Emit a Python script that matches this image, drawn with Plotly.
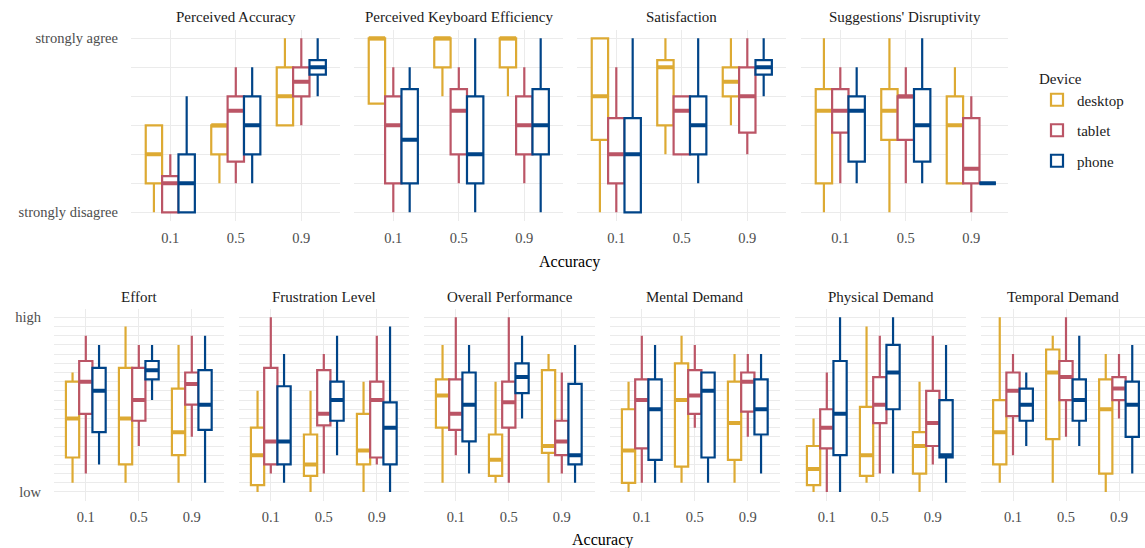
import plotly.graph_objects as go

# ---------------- data ----------------
accuracy = ["0.1", "0.5", "0.9"]
devices = ["desktop", "tablet", "phone"]
colors = {"desktop": "#DDAA33", "tablet": "#BB5566", "phone": "#004488"}

likert_ticks = [1, 2, 3, 4, 5, 6, 7]
likert_labels = ["strongly disagree", "", "", "", "", "", "strongly agree"]
tlx_ticks = list(range(1, 21))
tlx_labels = ["low"] + [""] * 18 + ["high"]

# each entry: per device -> per accuracy (0.1, 0.5, 0.9) -> (lower, q1, median, q3, upper)
perceived_accuracy = [
    [(1, 2, 3, 4, 4), (2, 3, 4, 4, 4), (4, 4, 5, 6, 7)],
    [(1, 1, 2, 2.25, 3), (2, 2.75, 4.5, 5, 6), (4, 5, 5.5, 6, 7)],
    [(1, 1, 2, 3, 5), (2, 3, 4, 5, 6), (5, 5.75, 6, 6.25, 7)],
]
keyboard_efficiency = [
    [(4.75, 4.75, 7, 7, 7), (5, 6, 7, 7, 7), (5, 6, 7, 7, 7)],
    [(1, 2, 4, 5, 6), (2, 3, 4.5, 5.25, 6), (2, 3, 4, 5, 6)],
    [(1, 2, 3.5, 5.25, 6), (1, 2, 3, 5, 7), (1, 3, 4, 5.25, 7)],
]
satisfaction = [
    [(1, 3.5, 5, 7, 7), (3, 4, 6, 6.25, 7), (4, 5, 5.5, 6, 7)],
    [(1, 2, 3, 4.25, 6), (3, 3, 4.5, 5, 5), (3, 3.75, 5, 6, 7)],
    [(1, 1, 3, 4.25, 7), (2, 3, 4, 5, 7), (5, 5.75, 6, 6.25, 7)],
]
disruptivity = [
    [(1, 2, 4.5, 5.25, 7), (1, 3.5, 4.5, 5.25, 7), (2, 2, 4, 5, 6)],
    [(2, 3.75, 4.5, 5.25, 6), (2, 3.5, 5, 5, 6), (1, 2, 2.5, 4.25, 5)],
    [(2, 2.75, 4.5, 5, 6), (2, 2.75, 4, 5.25, 7), (2, 2, 2, 2, 2)],
]
effort = [
    [(2, 4.75, 9, 13, 14), (2, 4, 9, 14.5, 19), (2, 5, 7.5, 12.25, 17)],
    [(3, 9.5, 13, 15.25, 18), (6, 8.75, 11, 14.5, 17), (7, 10.5, 12.75, 14, 18)],
    [(4, 7.5, 12, 14.5, 17), (11, 13.25, 14.25, 15.25, 17), (2, 7.75, 10.5, 14.25, 18)],
]
frustration = [
    [(1, 1.75, 5, 8, 12), (1, 2.75, 4, 7.25, 12), (1, 4, 5.5, 9.5, 13)],
    [(3, 4, 6.5, 14.5, 20), (3, 8.25, 9.5, 14.25, 16), (4, 4.75, 11, 13, 18)],
    [(2, 4, 6.5, 12.5, 16), (5, 8.75, 11, 13, 18), (1, 4, 8, 10.75, 19)],
]
overall_performance = [
    [(2, 8, 11.5, 13.25, 17), (2, 2.75, 4.5, 7.25, 13), (2, 5.25, 6, 14.25, 16)],
    [(5, 7.75, 9.5, 13.25, 20), (2, 8, 10.75, 13, 20), (3, 5, 6.5, 8.75, 14)],
    [(3, 6.5, 10.5, 14, 17), (9, 11.75, 13.5, 15, 18), (2, 4, 5, 12.75, 17)],
]
mental_demand = [
    [(1, 2, 5.5, 10, 13), (2, 3.75, 11, 15, 18), (2, 4.5, 8.5, 13, 16)],
    [(2, 5.75, 11, 13.25, 18), (8, 9.5, 11.5, 14.25, 17), (7, 9.75, 13, 14, 16)],
    [(2, 4.5, 10, 13.25, 17), (2, 4.75, 12, 14, 14), (3, 7.25, 10, 13.25, 16)],
]
physical_demand = [
    [(1, 1.75, 3.5, 6, 9), (2, 2.75, 5, 10.25, 19), (1, 3, 6, 7.5, 13)],
    [(1, 5.75, 8, 10, 14), (3, 8.5, 10.5, 13.5, 18), (4, 6, 8.5, 12, 18)],
    [(1, 5, 9.5, 15.25, 20), (3, 10, 14, 17, 20), (2, 4.75, 5, 11, 17)],
]
temporal_demand = [
    [(2, 4, 7.5, 11, 20), (2, 6.75, 14, 16.5, 18), (1, 3, 10, 13.25, 16)],
    [(5, 9.25, 12, 14, 16), (7, 11, 13.5, 15.25, 20), (9, 11, 12.25, 13.5, 16)],
    [(6, 8.75, 10.5, 12.25, 14), (6, 8.75, 11, 13.25, 18), (3, 7, 10.5, 13, 17)],
]

top_titles = ["Perceived Accuracy", "Perceived Keyboard Efficiency", "Satisfaction",
              "Suggestions' Disruptivity"]
top_data = [perceived_accuracy, keyboard_efficiency, satisfaction, disruptivity]
bottom_titles = ["Effort", "Frustration Level", "Overall Performance", "Mental Demand",
                 "Physical Demand", "Temporal Demand"]
bottom_data = [effort, frustration, overall_performance, mental_demand,
               physical_demand, temporal_demand]

# ---------------- layout geometry (pixels) ----------------
W, H = 1145, 548
FONT = "Liberation Serif"
GRID = "#EBEBEB"

top_x = [(131, 340), (354, 563), (577, 786), (801, 1008)]
top_y = (29.6, 221)
bot_x = [(54, 224), (239, 409), (424, 595), (610, 780), (795, 966), (981.2, 1145)]
bot_y = (308.6, 500.7)


def fx(p):
    return p / W


def fy(p):
    return 1 - p / H


fig = go.Figure()
layout_axes = {}
annotations = []

panels = []
for i, (t, d) in enumerate(zip(top_titles, top_data)):
    panels.append(dict(title=t, data=d, xd=top_x[i], yd=top_y, row="top", first=(i == 0)))
for i, (t, d) in enumerate(zip(bottom_titles, bottom_data)):
    panels.append(dict(title=t, data=d, xd=bot_x[i], yd=bot_y, row="bottom", first=(i == 0)))

for k, p in enumerate(panels, start=1):
    xa = "x" if k == 1 else f"x{k}"
    ya = "y" if k == 1 else f"y{k}"
    for di, dev in enumerate(devices):
        stats = p["data"][di]
        lo = [s[0] for s in stats]
        q1 = [s[1] for s in stats]
        med = [s[2] for s in stats]
        q3 = [s[3] for s in stats]
        hi = [s[4] for s in stats]
        fig.add_trace(go.Box(
            x=accuracy, q1=q1, median=med, q3=q3, lowerfence=lo, upperfence=hi,
            name=dev, legendgroup=dev, showlegend=(k == 1), offsetgroup=dev,
            line=dict(color=colors[dev], width=2.2), fillcolor="white",
            whiskerwidth=0, boxpoints=False, xaxis=xa, yaxis=ya, hoverinfo="skip",
        ))
        # thick median bar (drawn as a flat box at the median)
        fig.add_trace(go.Box(
            x=accuracy, q1=med, median=med, q3=med, lowerfence=med, upperfence=med,
            name=dev, legendgroup=dev, showlegend=False, offsetgroup=dev,
            line=dict(color=colors[dev], width=4), fillcolor=colors[dev],
            whiskerwidth=0, boxpoints=False, xaxis=xa, yaxis=ya, hoverinfo="skip",
        ))

    x0, x1 = p["xd"]
    y0, y1 = p["yd"]
    spacing = 65.5 if p["row"] == "top" else 53.0
    right = -0.6 + (x1 - x0) / spacing
    xkey = "xaxis" if k == 1 else f"xaxis{k}"
    ykey = "yaxis" if k == 1 else f"yaxis{k}"
    layout_axes[xkey] = dict(
        domain=[fx(x0), fx(x1)], anchor=ya, type="category",
        categoryorder="array", categoryarray=accuracy, range=[-0.6, right],
        showgrid=True, gridcolor=GRID, gridwidth=1.3, zeroline=False, showline=False,
        ticks="", tickfont=dict(family=FONT, size=14.5, color="#4D4D4D"),
        ticklabelstandoff=6, fixedrange=True,
    )
    if p["row"] == "top":
        yr, tv, tt = [0.7, 7.3], likert_ticks, likert_labels
    else:
        yr, tv, tt = [0.05, 20.95], tlx_ticks, tlx_labels
    layout_axes[ykey] = dict(
        domain=[fy(y1), fy(y0)], anchor=xa, range=yr, tickmode="array",
        tickvals=tv, ticktext=tt, showticklabels=p["first"],
        showgrid=True, gridcolor=GRID, gridwidth=1.3, zeroline=False, showline=False,
        ticks="", tickfont=dict(family=FONT, size=14.5, color="#4D4D4D"),
        ticklabelstandoff=12, fixedrange=True,
    )
    title_y = 17 if p["row"] == "top" else 297
    annotations.append(dict(
        text=p["title"], x=fx((x0 + x1) / 2), y=fy(title_y), xref="paper", yref="paper",
        xanchor="center", yanchor="middle", showarrow=False,
        font=dict(family=FONT, size=15, color="#1A1A1A"),
    ))

annotations.append(dict(text="Accuracy", x=fx((131 + 1008) / 2), y=fy(262), xref="paper",
                        yref="paper", xanchor="center", yanchor="middle", showarrow=False,
                        font=dict(family=FONT, size=16, color="black")))
annotations.append(dict(text="Accuracy", x=fx((54 + 1151) / 2), y=fy(540), xref="paper",
                        yref="paper", xanchor="center", yanchor="middle", showarrow=False,
                        font=dict(family=FONT, size=16, color="black")))

fig.update_layout(
    width=W, height=H, margin=dict(l=0, r=0, t=0, b=0),
    paper_bgcolor="white", plot_bgcolor="white",
    boxmode="group", boxgap=0.25, boxgroupgap=0,
    font=dict(family=FONT, size=15, color="#1A1A1A"),
    annotations=annotations,
    legend=dict(
        x=fx(1037), y=fy(64), xanchor="left", yanchor="top",
        title=dict(text="Device", font=dict(family=FONT, size=15, color="#1A1A1A")),
        font=dict(family=FONT, size=15, color="#1A1A1A"),
        tracegroupgap=8, bgcolor="rgba(0,0,0,0)",
    ),
    **layout_axes,
)

fig.write_html("out.html", config={"displayModeBar": False},
               post_script="document.body.style.margin='0';document.body.style.overflow='hidden';")
